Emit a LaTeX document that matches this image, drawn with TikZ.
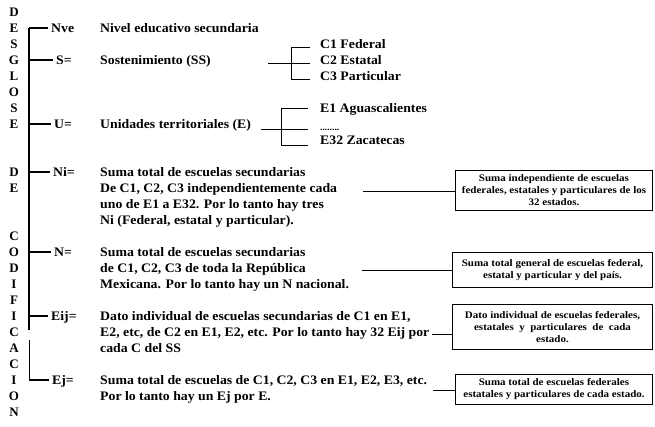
\documentclass[tikz,border=0pt]{standalone}
\usepackage{fontspec}
\setmainfont{Liberation Serif}
\newfontfamily\widefont[FakeStretch=1.06]{Liberation Serif}
\newfontfamily\boxfont[FakeStretch=1.1]{Liberation Serif}
\begin{document}
\begin{tikzpicture}[x=1pt,y=-1pt,
  lett/.style={font=\bfseries\fontsize{13}{13}\selectfont, inner sep=0pt, text height=8.6pt, text depth=0pt},
  lab/.style={anchor=west, font=\widefont\bfseries\fontsize{13}{14}\selectfont, inner sep=0pt, text height=8.8pt, text depth=0pt},
  boxnode/.style={draw, line width=1pt, anchor=north west, align=center, inner sep=1pt,
    font=\boxfont\bfseries\fontsize{10}{12}\selectfont},
  thickline/.style={line width=1.8pt},
  thinline/.style={line width=0.9pt},
  tickline/.style={line width=1.1pt}
]
\useasboundingbox (0,0) rectangle (655,426);
% vertical letters
\foreach \t [count=\i from 0] in {D,E,S,G,L,O,S,E}
  \node[lett] (ld\i) at (14,{12+16*\i}) {\t};
\foreach \t [count=\i from 10] in {D,E}
  \node[lett] (le\i) at (14,{12+16*\i}) {\t};
\foreach \t [count=\i from 14] in {C,O,D,I,F,I,C,A,C,I,O,N}
  \node[lett] (lc\i) at (14,{12+16*\i}) {\t};

% main bracket
\coordinate (mtop) at (29,28);
\coordinate (mmid) at (29,330);
\coordinate (mmid2) at (29,340);
\coordinate (mbot) at (29,380);
\draw[thickline] (mtop) -- (mmid);
\draw[thinline] (mmid2) -- (mbot);

% labels
\node[lab] (nve) at (51,28) {Nve};
\node[lab] (sl) at (56,60) {S=};
\node[lab] (ul) at (54,124) {U=};
\node[lab] (nil) at (53,172) {Ni=};
\node[lab] (nl) at (54,252) {N=};
\node[lab] (eijl) at (51,316) {Eij=};
\node[lab] (ejl) at (52,380) {Ej=};
\foreach \n in {nve,sl,ul,nil,nl,eijl,ejl}
  \draw[tickline] (mtop |- \n.west) -- ([xshift=-3pt]\n.west);

% descriptions
\node[lab] (d1) at (100,28) {Nivel educativo secundaria};
\node[lab] (d2) at (100,60) {Sostenimiento (SS)};
\node[lab] (d3) at (100,124) {Unidades territoriales (E)};
\node[lab] (d4a) at (100,172) {Suma total de escuelas secundarias};
\node[lab] (d4b) at (100,188) {De C1, C2, C3 independientemente cada};
\node[lab] (d4c) at (100,204) {uno de E1 a E32. Por lo tanto hay tres};
\node[lab] (d4d) at (100,220) {Ni (Federal, estatal y particular).};
\node[lab] (d5a) at (100,252) {Suma total de escuelas secundarias};
\node[lab] (d5b) at (100,268) {de C1, C2, C3 de toda la República};
\node[lab] (d5c) at (100,284) {Mexicana. Por lo tanto hay un N nacional.};
\node[lab] (d6a) at (100,316) {Dato individual de escuelas secundarias de C1 en E1,};
\node[lab] (d6b) at (100,332) {E2, etc, de C2 en E1, E2, etc. Por lo tanto hay 32 Eij por};
\node[lab] (d6c) at (100,348) {cada C del SS};
\node[lab] (d7a) at (100,380) {Suma total de escuelas de C1, C2, C3 en E1, E2, E3, etc.};
\node[lab] (d7b) at (100,396) {Por lo tanto hay un Ej por E.};

% C bracket
\node[lab] (c1) at (320,44) {C1 Federal};
\node[lab] (c2) at (320,60) {C2 Estatal};
\node[lab] (c3) at (320,76) {C3 Particular};
\coordinate (cs) at (268,63);
\coordinate (cv) at (291,63);
\draw[thinline] (cs) -- (cv);
\draw[thinline] (291,47) -- (291,79);
\draw[thinline] (291,47) -- (310,47);
\draw[thinline] (cv) -- (310,63);
\draw[thinline] (291,79) -- (310,79);

% E bracket
\node[lab] (e1) at (320,108) {E1 Aguascalientes};
\node[lab] (e2) at (320,124) {\raisebox{-2pt}{\fontsize{9}{9}\selectfont ........}};
\node[lab] (e3) at (320,140) {E32 Zacatecas};
\coordinate (es) at (261,129);
\coordinate (ev) at (281,129);
\draw[thinline] (es) -- (ev);
\draw[thinline] (281,108) -- (281,145);
\draw[thinline] (281,108) -- (308,108);
\draw[thinline] (ev) -- (308,129);
\draw[thinline] (281,145) -- (308,145);

% boxes
\node[boxnode, minimum width=197pt, minimum height=40pt] (b1) at (455,170)
  {Suma independiente de escuelas\\federales, estatales y particulares de los\\32 estados.};
\node[boxnode, minimum width=200pt, minimum height=35pt] (b2) at (452,252)
  {Suma total general de escuelas federal,\\estatal y particular y del país.};
\node[boxnode, minimum width=200pt, minimum height=45pt] (b3) at (452,304)
  {Dato individual de escuelas federales,\\estatales\ \ y\ \ particulares\ \ de\ \ cada\\estado.};
\node[boxnode, minimum width=197pt, minimum height=30pt] (b4) at (455,374)
  {Suma total de escuelas federales\\estatales y particulares de cada estado.};

% connectors
\coordinate (p1) at (363,191);
\coordinate (p2) at (362,270);
\coordinate (p3) at (432,334);
\coordinate (p4) at (433,390);
\draw[thinline] (p1) -- (p1 -| b1.west);
\draw[thinline] (p2) -- (p2 -| b2.west);
\draw[thinline] (p3) -- (p3 -| b3.west);
\draw[thinline] (p4) -- (p4 -| b4.west);
\end{tikzpicture}
\end{document}
